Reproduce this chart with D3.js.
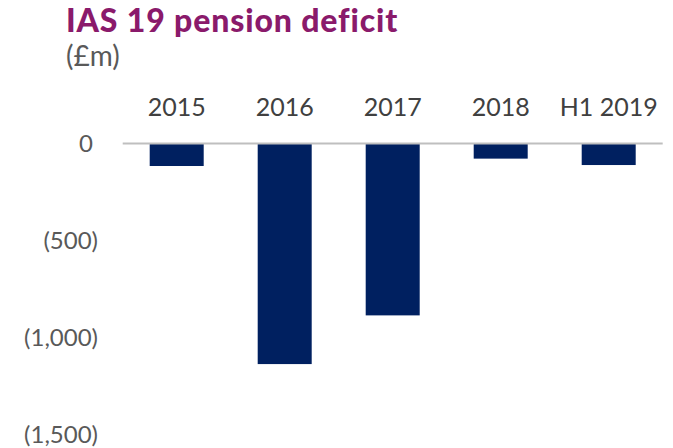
<!DOCTYPE html>
<html>
<head>
<meta charset="utf-8">
<script src="https://cdn.jsdelivr.net/npm/d3@7"></script>
<style>
  html, body { margin: 0; padding: 0; background: #ffffff; }
  svg { display: block; font-family: Lato, "Open Sans", sans-serif; }
</style>
</head>
<body>
<svg id="chart" width="673" height="448"></svg>
<script>
// IAS 19 pension deficit, £m (negative = deficit)
const categories = ["2015", "2016", "2017", "2018", "H1 2019"];
const deficit = [-116, -1137, -886, -78, -111];
const yTicks = [0, -500, -1000, -1500];
const yTickLabels = ["0", "(500)", "(1,000)", "(1,500)"];

const svg = d3.select("#chart");

const x = d3.scaleBand()
  .domain(categories)
  .range([122.7, 662.7])
  .paddingInner(0.5)
  .paddingOuter(0.25);

const y = d3.scaleLinear()
  .domain([-1500, 0])
  .range([434.5, 143.5]);

// Title and unit
const titleText = "IAS 19 pension deficit";
const title = svg.append("text")
  .attr("x", 66)
  .attr("y", 32)
  .attr("fill", "#8a1a6b")
  .attr("font-weight", 900)
  .attr("font-size", 32)
  .text(titleText);
const tw = title.node().getComputedTextLength();
title.attr("letter-spacing", (331 - tw) / (titleText.length - 1));

svg.append("text")
  .attr("x", 66)
  .attr("y", 66)
  .attr("fill", "#595959")
  .attr("font-size", 28)
  .text("(£m)");

// Bars
svg.append("g")
  .selectAll("rect")
  .data(categories.map((c, i) => ({ c, v: deficit[i] })))
  .join("rect")
  .attr("x", d => x(d.c))
  .attr("width", x.bandwidth())
  .attr("y", d => y(0))
  .attr("height", d => y(d.v) - y(0))
  .attr("fill", "#002060");

// Zero line
svg.append("line")
  .attr("x1", x.range()[0])
  .attr("x2", x.range()[1])
  .attr("y1", y(0))
  .attr("y2", y(0))
  .attr("stroke", "#bfbfbf")
  .attr("stroke-width", 2);

// Category labels along the top
const xAxis = svg.append("g")
  .attr("transform", "translate(0,116)")
  .call(d3.axisTop(x).tickSize(0).tickPadding(0));
xAxis.select(".domain").remove();
xAxis.selectAll("text")
  .attr("y", 0)
  .attr("dy", 0)
  .attr("fill", "#404040")
  .attr("font-size", 25)
  .attr("font-family", "Lato, 'Open Sans', sans-serif");

// Value axis
const yAxis = svg.append("g")
  .attr("transform", "translate(98,0)")
  .call(d3.axisLeft(y)
    .tickValues(yTicks)
    .tickSize(0)
    .tickPadding(0)
    .tickFormat((d, i) => yTickLabels[i]));
yAxis.select(".domain").remove();
yAxis.selectAll("text")
  .attr("fill", "#595959")
  .attr("font-size", 24)
  .attr("font-family", "Lato, 'Open Sans', sans-serif")
  .attr("x", d => d === 0 ? -5 : 0)
  .attr("dy", "0.35em");
</script>
</body>
</html>
